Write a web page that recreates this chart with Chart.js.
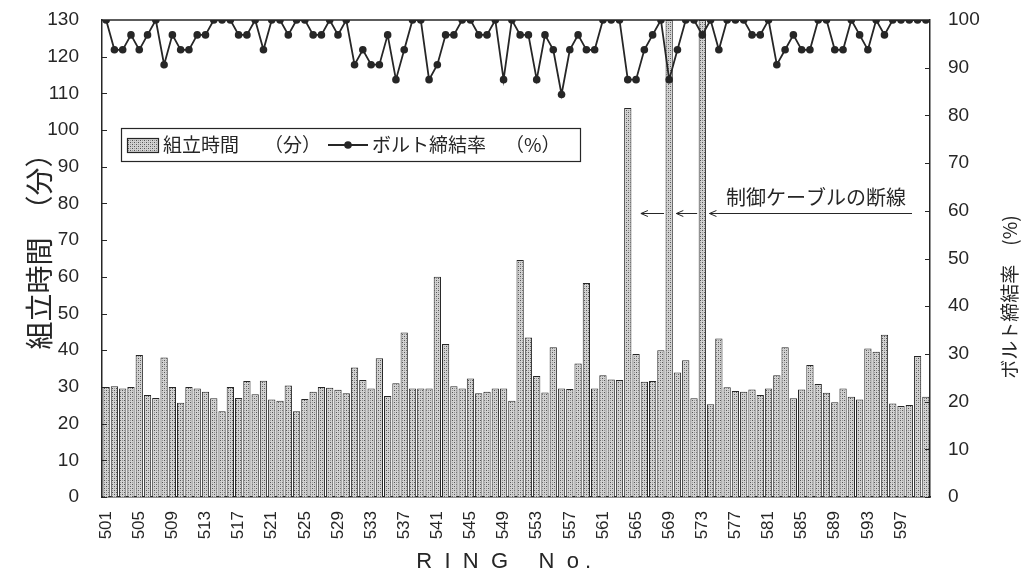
<!DOCTYPE html>
<html>
<head>
<meta charset="utf-8">
<script src="https://cdn.jsdelivr.net/npm/chart.js@4.4.0/dist/chart.umd.min.js"></script>
<style>
  html, body { margin: 0; padding: 0; background: #fff; }
</style>
</head>
<body>
<canvas id="chart" width="1022" height="578"></canvas>
<script>
// リング番号
const ringNo = [
  501, 502, 503, 504, 505, 506, 507, 508, 509, 510,
  511, 512, 513, 514, 515, 516, 517, 518, 519, 520,
  521, 522, 523, 524, 525, 526, 527, 528, 529, 530,
  531, 532, 533, 534, 535, 536, 537, 538, 539, 540,
  541, 542, 543, 544, 545, 546, 547, 548, 549, 550,
  551, 552, 553, 554, 555, 556, 557, 558, 559, 560,
  561, 562, 563, 564, 565, 566, 567, 568, 569, 570,
  571, 572, 573, 574, 575, 576, 577, 578, 579, 580,
  581, 582, 583, 584, 585, 586, 587, 588, 589, 590,
  591, 592, 593, 594, 595, 596, 597, 598, 599, 600
]
const tickLabels = ['501', '505', '509', '513', '517', '521', '525', '529', '533', '537', '541', '545', '549',
  '553', '557', '561', '565', '569', '573', '577', '581', '585', '589', '593', '597']

// 組立時間 (分)
const buildTime = [
  30, 30.2, 29.6, 30, 38.7, 27.8, 27, 38, 30, 25.7,
  30, 29.6, 28.7, 26.9, 23.4, 30, 27, 31.6, 28, 31.7,
  26.6, 26.2, 30.4, 23.4, 26.7, 28.7, 30, 29.8, 29.2, 28.3,
  35.3, 31.9, 29.6, 37.8, 27.5, 31, 44.8, 29.6, 29.6, 29.6,
  60, 41.7, 30.2, 29.6, 32.3, 28.3, 28.7, 29.6, 29.6, 26.2,
  64.6, 43.5, 33, 28.5, 40.8, 29.6, 29.4, 36.4, 58.3, 29.6,
  33.2, 32, 31.9, 106, 39, 31.4, 31.6, 40, 130, 33.9,
  37.3, 26.9, 130, 25.3, 43.2, 29.9, 28.9, 28.7, 29.3, 27.8,
  29.6, 33.2, 40.8, 26.9, 29.3, 36, 30.8, 28.4, 25.8, 29.6,
  27.3, 26.6, 40.5, 39.6, 44.2, 25.5, 24.8, 25.1, 38.4, 27.3
]

// ボルト締結率 (%)
const boltRate = [
  100, 93.75, 93.75, 96.88, 93.75, 96.88, 100, 90.63, 96.88, 93.75,
  93.75, 96.88, 96.88, 100, 100, 100, 96.88, 96.88, 100, 93.75,
  100, 100, 96.88, 100, 100, 96.88, 96.88, 100, 96.88, 100,
  90.63, 93.75, 90.63, 90.63, 96.88, 87.5, 93.75, 100, 100, 87.5,
  90.63, 96.88, 96.88, 100, 100, 96.88, 96.88, 100, 87.5, 100,
  96.88, 96.88, 87.5, 96.88, 93.75, 84.38, 93.75, 96.88, 93.75, 93.75,
  100, 100, 100, 87.5, 87.5, 93.75, 96.88, 100, 87.5, 93.75,
  100, 100, 96.88, 100, 93.75, 100, 100, 100, 96.88, 96.88,
  100, 90.63, 93.75, 96.88, 93.75, 93.75, 100, 100, 93.75, 93.75,
  100, 96.88, 93.75, 100, 96.88, 100, 100, 100, 100, 100
]

// 断線したリング (矢印の先)
const cableBreakRings = [564, 569, 573]

const ink = '#262626'
const jp = '"Noto Sans CJK JP", "Noto Sans", sans-serif'
const num = '"Liberation Sans", Arial, sans-serif'

const makeStipple = () => {
  const c = document.createElement('canvas')
  c.width = 4
  c.height = 4
  const g = c.getContext('2d')
  g.fillStyle = '#d2d2d2'
  g.fillRect(0, 0, 4, 4)
  g.fillStyle = '#555'
  g.fillRect(0, 0, 1, 1)
  g.fillRect(2, 2, 1, 1)
  g.fillStyle = '#9a9a9a'
  g.fillRect(2, 0, 1, 1)
  g.fillRect(0, 2, 1, 1)
  return g.createPattern(c, 'repeat')
}
const stipple = makeStipple()

const decor = {
  id: 'decor',
  afterDraw(chart) {
    const { ctx, chartArea: a, scales } = chart
    ctx.save()
    ctx.strokeStyle = ink
    ctx.lineWidth = 1.5

    // 上枠
    ctx.beginPath()
    ctx.moveTo(a.left, a.top)
    ctx.lineTo(a.right, a.top)
    ctx.stroke()

    // 内向きの目盛り
    ctx.lineWidth = 1
    ctx.beginPath()
    scales.y.ticks.forEach(t => {
      const py = Math.round(scales.y.getPixelForValue(t.value)) + 0.5
      ctx.moveTo(a.left, py)
      ctx.lineTo(a.left + 5, py)
    })
    scales.y1.ticks.forEach(t => {
      const py = Math.round(scales.y1.getPixelForValue(t.value)) + 0.5
      ctx.moveTo(a.right, py)
      ctx.lineTo(a.right - 5, py)
    })
    ctx.stroke()

    // 右軸タイトル
    ctx.fillStyle = ink
    ctx.font = '19px ' + jp
    ctx.textAlign = 'center'
    ctx.textBaseline = 'middle'
    ctx.save()
    ctx.translate(1010, 297)
    ctx.rotate(-Math.PI / 2)
    ctx.fillText('ボルト締結率　(%)', 0, 0)
    ctx.restore()

    // 凡例
    ctx.lineWidth = 1.2
    ctx.fillStyle = '#fff'
    ctx.fillRect(121, 128, 459, 33)
    ctx.strokeRect(121.5, 128.5, 459, 33)
    ctx.fillStyle = stipple
    ctx.fillRect(127, 138, 31, 14)
    ctx.strokeRect(127.5, 138.5, 31, 14)
    ctx.fillStyle = ink
    ctx.font = '19px ' + jp
    ctx.textAlign = 'left'
    ctx.fillText('組立時間', 163, 145)
    ctx.fillText('（分）', 264, 145)
    ctx.lineWidth = 1.8
    ctx.beginPath()
    ctx.moveTo(328, 145)
    ctx.lineTo(368, 145)
    ctx.stroke()
    ctx.beginPath()
    ctx.arc(348, 145, 3.8, 0, Math.PI * 2)
    ctx.fill()
    ctx.fillText('ボルト締結率', 372, 145)
    ctx.fillText('（%）', 505, 145)

    // 注記と矢印
    ctx.font = '20px ' + jp
    ctx.fillText('制御ケーブルの断線', 726, 197)
    const x = scales.x
    const half = (x.getPixelForValue(1) - x.getPixelForValue(0)) / 2
    const centers = cableBreakRings.map(r => x.getPixelForValue(ringNo.indexOf(r)))
    const tips = centers.map((c, i) => c + half + (i === 0 ? 9 : 3))
    const tails = [centers[1] - half - 1, centers[2] - half - 1, 912]
    const ay = 213.5
    ctx.lineWidth = 1
    tips.forEach((tx, i) => {
      ctx.beginPath()
      ctx.moveTo(tails[i], ay)
      ctx.lineTo(tx, ay)
      ctx.stroke()
      ctx.beginPath()
      ctx.moveTo(tx + 7, ay - 3)
      ctx.lineTo(tx, ay)
      ctx.lineTo(tx + 7, ay + 3)
      ctx.stroke()
    })
    ctx.restore()
  }
}

new Chart(document.getElementById('chart'), {
  type: 'bar',
  data: {
    labels: ringNo,
    datasets: [
      {
        type: 'line',
        label: 'ボルト締結率　（%）',
        data: boltRate,
        yAxisID: 'y1',
        order: 0,
        borderColor: ink,
        backgroundColor: ink,
        borderWidth: 1.8,
        pointRadius: 3.8,
        pointBorderWidth: 0,
        tension: 0
      },
      {
        type: 'bar',
        label: '組立時間　（分）',
        data: buildTime,
        yAxisID: 'y',
        order: 1,
        backgroundColor: stipple,
        borderColor: ink,
        borderWidth: 1,
        barPercentage: 0.88,
        categoryPercentage: 1
      }
    ]
  },
  options: {
    responsive: false,
    animation: false,
    devicePixelRatio: 1,
    layout: { padding: { top: 20, left: 0, right: 0, bottom: 0 } },
    plugins: { legend: { display: false }, tooltip: { enabled: false } },
    scales: {
      x: {
        grid: { display: false },
        border: { display: true, color: ink, width: 1.5 },
        ticks: {
          autoSkip: false,
          maxRotation: 90,
          minRotation: 90,
          padding: 6,
          color: ink,
          font: { family: num, size: 17 },
          callback: (v, i) => tickLabels.includes(String(ringNo[i])) ? String(ringNo[i]) : ''
        },
        title: {
          display: true,
          text: 'R  I  N  G     N  o .    ',
          color: ink,
          font: { family: num, size: 22 },
          padding: { top: 0, bottom: 3 }
        },
        afterFit: s => { s.height = 81 }
      },
      y: {
        position: 'left',
        min: 0,
        max: 130,
        grid: { display: false },
        border: { display: true, color: ink, width: 1.5 },
        ticks: { stepSize: 10, padding: 15, color: ink, font: { family: num, size: 19, lineHeight: 0.4 } },
        title: {
          display: true,
          text: '　組立時間　（分）',
          color: ink,
          font: { family: jp, size: 28 },
          padding: { top: 23, bottom: 0 }
        },
        afterFit: s => { s.width = 102 }
      },
      y1: {
        position: 'right',
        min: 0,
        max: 100,
        grid: { display: false },
        border: { display: true, color: ink, width: 1.5 },
        ticks: { stepSize: 10, padding: 10, color: ink, font: { family: num, size: 19, lineHeight: 0.4 } },
        afterFit: s => { s.width = 92 }
      }
    }
  },
  plugins: [decor]
})
</script>
</body>
</html>
